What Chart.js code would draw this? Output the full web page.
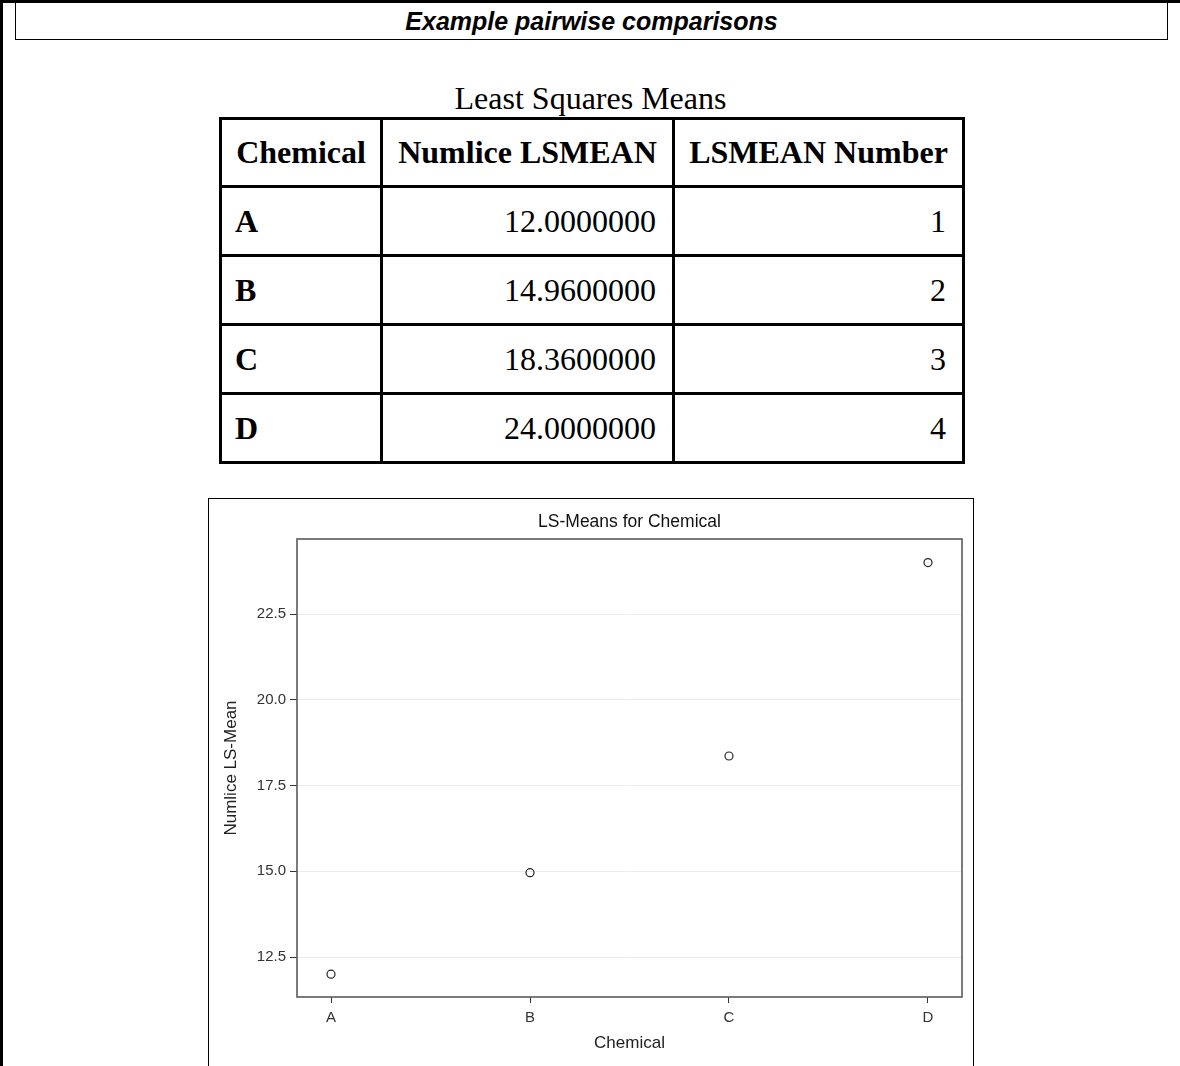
<!DOCTYPE html>
<html>
<head>
<meta charset="utf-8">
<title>Example pairwise comparisons</title>
<script src="https://cdn.jsdelivr.net/npm/chart.js@4.4.0/dist/chart.umd.min.js"></script>
<style>
  html, body { margin: 0; padding: 0; background: #fff; overflow: hidden; }
  body { width: 1180px; height: 1066px; position: relative; }
  .rule-left { position: absolute; left: 0; top: 0; width: 3px; height: 1066px; background: #000; }
  .rule-top { position: absolute; left: 0; top: 0; width: 1180px; height: 3px; background: #000; }
  .banner {
    position: absolute; left: 15px; top: 0; width: 1153px; height: 40px;
    box-sizing: border-box; border: 1px solid #000; border-top: 3px solid #000;
    font: italic bold 25px "Liberation Sans", Arial, sans-serif;
    text-align: center; line-height: 36px; color: #000;
  }
  .caption {
    position: absolute; left: 219px; top: 80px; width: 743px; text-align: center;
    font: 32px "Liberation Serif", "Times New Roman", serif; line-height: 37px;
  }
  table.lsm {
    position: absolute; left: 219px; top: 117px; width: 743px;
    border-collapse: collapse; table-layout: fixed;
    font: 32px "Liberation Serif", "Times New Roman", serif;
  }
  table.lsm th, table.lsm td { border: 3px solid #000; padding: 0 16px 0 13px; height: 66px; white-space: nowrap; }
  table.lsm th { font-weight: bold; text-align: center; padding: 0 4px; height: 65px; }
  table.lsm td { text-align: right; }
  table.lsm td.name { font-weight: bold; text-align: left; }
  .chartbox {
    position: absolute; left: 208px; top: 498px; width: 764px; height: 570px;
    border: 1px solid #000;
  }
  .chartbox canvas { display: block; }
</style>
</head>
<body>
<div class="rule-left"></div>
<div class="rule-top"></div>
<div class="banner">Example pairwise comparisons</div>

<div class="caption">Least Squares Means</div>
<table class="lsm" id="lsmTable">
  <colgroup><col style="width:161px"><col style="width:292px"><col style="width:290px"></colgroup>
  <thead><tr><th>Chemical</th><th>Numlice LSMEAN</th><th>LSMEAN Number</th></tr></thead>
  <tbody></tbody>
</table>

<div class="chartbox"><canvas id="lsChart" width="764" height="570"></canvas></div>

<script>
const chemicals = ['A', 'B', 'C', 'D'];
const lsmeans = [12.0, 14.96, 18.36, 24.0];
const lsmeanNumbers = [1, 2, 3, 4];
const yTicks = [12.5, 15.0, 17.5, 20.0, 22.5];

// fill the table
const tbody = document.querySelector('#lsmTable tbody');
chemicals.forEach((c, i) => {
  const tr = document.createElement('tr');
  tr.innerHTML = '<td class="name">' + c + '</td><td>' + lsmeans[i].toFixed(7) +
    '</td><td>' + lsmeanNumbers[i] + '</td>';
  tbody.appendChild(tr);
});

Chart.defaults.font.family = '"Liberation Sans", Arial, sans-serif';
Chart.defaults.color = '#333';

// plot frame like the SAS wall
const plotFrame = {
  id: 'plotFrame',
  afterDraw(chart) {
    const { ctx, chartArea: a } = chart;
    ctx.save();
    ctx.strokeStyle = '#5a5a5a';
    ctx.lineWidth = 1.6;
    ctx.strokeRect(a.left, a.top, a.right - a.left, a.bottom - a.top);
    ctx.restore();
  }
};

new Chart(document.getElementById('lsChart'), {
  type: 'scatter',
  data: {
    datasets: [{
      data: chemicals.map((c, i) => ({ x: i, y: lsmeans[i] })),
      pointStyle: 'circle',
      pointRadius: 4,
      borderWidth: 1.2,
      borderColor: '#222',
      backgroundColor: 'rgba(0,0,0,0)'
    }]
  },
  options: {
    responsive: false,
    animation: false,
    devicePixelRatio: 1,
    layout: { padding: { left: 0, right: 11, top: 0, bottom: 0 } },
    plugins: {
      legend: { display: false },
      tooltip: { enabled: false },
      title: {
        display: true,
        fullSize: false,
        text: 'LS-Means for Chemical',
        color: '#111',
        font: { size: 17.5, weight: 'normal' },
        padding: { top: 12.5, bottom: 6.5 }
      }
    },
    scales: {
      x: {
        type: 'linear',
        min: -0.1709,
        max: 3.1709,
        afterBuildTicks: s => { s.ticks = chemicals.map((c, i) => ({ value: i })); },
        afterFit: s => { s.height = 72; },
        ticks: {
          callback: v => chemicals[v],
          font: { size: 15 },
          color: '#333',
          padding: 6,
          autoSkip: false,
          maxRotation: 0
        },
        grid: { drawOnChartArea: false, tickLength: 6, tickColor: '#333', color: '#333' },
        border: { display: false },
        title: {
          display: true, text: 'Chemical', color: '#222',
          font: { size: 17 }, padding: { top: 0, bottom: 15.8 }
        }
      },
      y: {
        type: 'linear',
        min: 11.334,
        max: 24.687,
        afterBuildTicks: s => { s.ticks = yTicks.map(v => ({ value: v })); },
        afterFit: s => { s.width = 88; },
        ticks: {
          callback: v => v.toFixed(1),
          font: { size: 15 },
          color: '#333',
          padding: 4
        },
        grid: { color: '#ececec', tickLength: 7, tickColor: '#333' },
        border: { display: false },
        title: {
          display: true, text: 'Numlice LS-Mean', color: '#222',
          font: { size: 17 }, padding: { top: 11.8, bottom: 0 }
        }
      }
    }
  },
  plugins: [plotFrame]
});
</script>
</body>
</html>
